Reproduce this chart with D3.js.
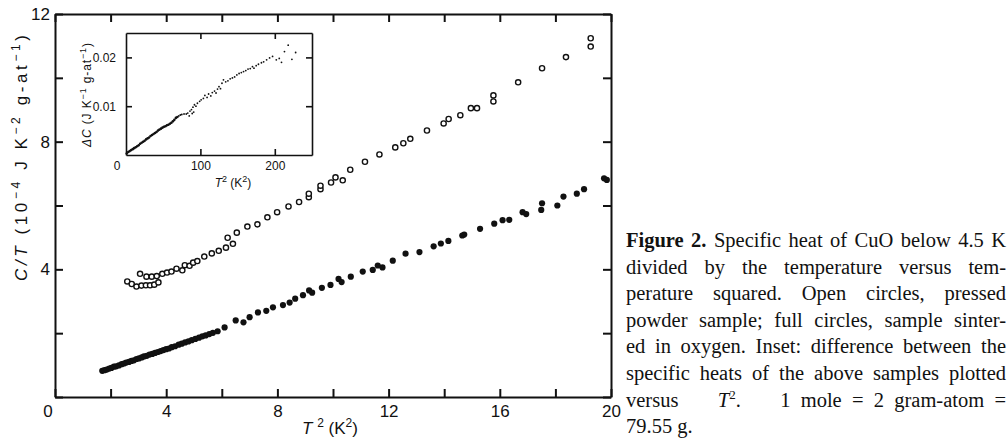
<!DOCTYPE html>
<html>
<head>
<meta charset="utf-8">
<script src="https://cdn.jsdelivr.net/npm/d3@7"></script>
<style>
  body { margin: 0; background: #fff; }
  .axis text { font-family: "Liberation Sans", Arial, sans-serif; fill: #111; }
  .label { font-family: "Liberation Sans", Arial, sans-serif; fill: #111; }
  .caption { font-family: "Liberation Serif", "Times New Roman", serif; font-size: 20.5px; fill: #111; }
</style>
</head>
<body>
<svg id="chart"></svg>
<script>
// constants for chart
let width = 1008
let height = 438

// open circles: pressed powder sample  [T^2 (K^2), C/T (1e-4 J K^-2 g-at^-1)]
let pressedPowder = [
  [2.60,3.62],[2.76,3.54],[2.93,3.46],[3.06,3.86],[3.11,3.49],[3.27,3.50],[3.29,3.77],[3.42,3.50],
  [3.48,3.77],[3.57,3.52],[3.66,3.79],[3.72,3.59],[3.86,3.86],[4.03,3.90],[4.19,3.93],[4.37,4.02],
  [4.58,3.97],[4.67,4.13],[4.84,4.11],[4.97,4.21],[5.12,4.26],[5.37,4.40],[5.64,4.50],[5.89,4.58],
  [6.15,4.68],[6.21,4.99],[6.40,4.80],[6.54,5.15],[6.92,5.34],[7.28,5.41],[7.64,5.63],[7.99,5.79],
  [8.40,5.97],[8.78,6.11],[9.13,6.26],[9.13,6.37],[9.55,6.51],[9.55,6.62],[9.93,6.72],[10.09,6.88],
  [10.35,6.79],[10.62,7.12],[11.15,7.37],[11.67,7.60],[12.24,7.82],[12.53,7.95],[12.78,8.09],
  [13.38,8.35],[13.98,8.57],[14.16,8.71],[14.58,8.83],[14.96,9.05],[15.18,9.05],[15.77,9.26],
  [15.77,9.45],[16.66,9.86],[17.52,10.30],[18.38,10.65],[19.27,10.98],[19.27,11.24]
]

// full circles: sample sintered in oxygen
let sinteredOxygen = [
  [1.70,0.82],[1.78,0.84],[1.86,0.86],[1.95,0.89],[2.03,0.91],[2.12,0.95],[2.20,0.96],[2.30,0.99],
  [2.40,1.03],[2.48,1.05],[2.56,1.08],[2.66,1.10],[2.75,1.13],[2.84,1.15],[2.93,1.19],[3.02,1.21],
  [3.12,1.24],[3.20,1.27],[3.30,1.29],[3.40,1.33],[3.50,1.35],[3.60,1.38],[3.70,1.41],[3.80,1.44],
  [3.90,1.47],[4.00,1.50],[4.10,1.52],[4.20,1.56],[4.32,1.59],[4.45,1.64],[4.56,1.67],[4.68,1.71],
  [4.80,1.74],[4.92,1.78],[5.05,1.82],[5.18,1.86],[5.30,1.90],[5.42,1.93],[5.55,1.97],[5.68,2.01],
  [5.85,2.06],[6.10,2.18],[6.50,2.40],[6.78,2.34],[7.00,2.50],[7.30,2.65],[7.60,2.70],[7.84,2.81],
  [8.20,2.88],[8.44,2.96],[8.64,3.08],[8.92,3.19],[9.14,3.34],[9.25,3.27],[9.60,3.42],[9.91,3.51],
  [10.20,3.70],[10.31,3.60],[10.64,3.77],[11.07,3.93],[11.43,3.98],[11.61,4.12],[11.78,4.06],
  [12.15,4.27],[12.61,4.49],[13.11,4.54],[13.62,4.72],[13.88,4.81],[14.15,4.89],[14.65,5.06],
  [14.72,5.09],[15.29,5.27],[15.80,5.43],[16.10,5.54],[16.34,5.55],[16.82,5.79],[16.95,5.73],
  [17.49,5.86],[17.52,6.07],[18.07,6.00],[18.29,6.28],[18.77,6.37],[19.03,6.51],[19.75,6.85],
  [19.85,6.80]
]

// inset: difference of specific heats [T^2, dC (J K^-1 g-at^-1)]
let insetDiff = [
  [1,0.0003],[3,0.0006],[5,0.0008],[7,0.0010],[9,0.0012],[11,0.0014],[13,0.0016],[15,0.0018],
  [17,0.0020],[19,0.0023],[21,0.0025],[23,0.0027],[25,0.0029],[27,0.0032],[29,0.0034],[31,0.0036],
  [33,0.0039],[35,0.0041],[37,0.0043],[39,0.0045],[41,0.0047],[43,0.0050],[45,0.0052],[47,0.0054],
  [49,0.0056],[51,0.0058],[53,0.0059],[55,0.0061],[57,0.0062],[59,0.0064],[61,0.0066],[63,0.0069],
  [65,0.0072],[67,0.0076],[69,0.0078],[71,0.0080],[73,0.0082],[75,0.0083],[78,0.0084],[81,0.0084],
  [83,0.0086],[85,0.0080],[86,0.0090],[88,0.0093],[89,0.0085],[90,0.0098],[91,0.0088],[92,0.0103],
  [94,0.0100],[96,0.0106],[99,0.0110],[101,0.0113],[104,0.0116],[106,0.0122],[109,0.0118],
  [111,0.0125],[114,0.0121],[116,0.0128],[119,0.0131],[121,0.0127],[123,0.0135],[125,0.0140],
  [127,0.0136],[129,0.0147],[131,0.0154],[134,0.0150],[137,0.0152],[140,0.0156],[143,0.0158],
  [146,0.0160],[149,0.0164],[152,0.0167],[155,0.0169],[158,0.0171],[161,0.0173],[164,0.0176],
  [167,0.0177],[170,0.0181],[172,0.0178],[175,0.0183],[178,0.0186],[182,0.0189],[185,0.0191],
  [189,0.0195],[193,0.0199],[197,0.0202],[202,0.0195],[206,0.0198],[209,0.0190],[213,0.0212],
  [218,0.0225],[223,0.0196],[228,0.0210]
]

// ticks
let xTicks = [0,2,4,6,8,10,12,14,16,18,20]
let xLabels = [4,8,12,16,20]
let yTicks = [0,2,4,6,8,10,12]
let yLabels = [4,8,12]
let insetXTicks = [100,200]
let insetYTicks = [0.01,0.02]

// axis titles: [text, kind]  kind: "" normal, "i" italic, "sup" superscript
let yTitleParts = [["C/T","i"],["  (10",""],["−4","sup"],["  J K",""],["−2","sup"],["  g-at",""],["−1","sup"],[")",""]]
let xTitleParts = [["T","i"],[" ",""],["2","sup"],["   (K",""],["2","sup"],[")",""]]
let insetYTitleParts = [["ΔC","i"],["  (J K",""],["−1","sup"],[" g-at",""],["−1","sup"],[")",""]]
let insetXTitleParts = [["T","i"],["2","sup"],["  (K",""],["2","sup"],[")",""]]

// caption lines (last one not justified); \u2002 keeps a fixed gap that is not stretched
let captionLines = [
  [["Figure 2.","b"],[" Specific heat of CuO below 4.5 K",""]],
  [["divided by the temperature versus tem-",""]],
  [["perature squared. Open circles, pressed",""]],
  [["powder sample; full circles, sample sinter-",""]],
  [["ed in oxygen. Inset: difference between the",""]],
  [["specific heats of the above samples plotted",""]],
  [["versus ",""],["T","i"],["2","sup"],[". 1\u2002mole\u2002=\u20022\u2002gram-atom\u2002=",""]],
  [["79.55 g.",""]]
]

let svg = d3.select("#chart")
  .attr("width", width)
  .attr("height", height)

svg.append("rect").attr("width", width).attr("height", height).attr("fill", "#fff")

// write text parts into a text element
function addParts(t, parts, supSize) {
  let up = false
  parts.forEach(p => {
    let s = t.append("tspan").text(p[0])
    if (p[1] == "i") s.style("font-style", "italic")
    if (p[1] == "b") s.style("font-weight", "bold")
    if (p[1] == "sup") {
      s.attr("dy", up ? 0 : -supSize * 0.55).style("font-size", supSize + "px")
      up = true
    } else if (up) {
      s.attr("dy", supSize * 0.55)
      up = false
    }
  })
}

function styleAxis(g, w) {
  g.attr("class", "axis")
  g.selectAll("path").attr("stroke", "#111").attr("stroke-width", w)
  g.selectAll("line").attr("stroke", "#111").attr("stroke-width", w)
}

// MAIN PLOT
let x = d3.scaleLinear().domain([0, 20]).range([55, 611])
let y = d3.scaleLinear().domain([0, 12]).range([397, 14])

svg.append("g")
  .attr("transform", "translate(0," + y(0) + ")")
  .call(d3.axisBottom(x).tickValues(xTicks).tickSizeInner(-8).tickSizeOuter(0).tickPadding(8)
    .tickFormat(d => xLabels.includes(d) ? d : ""))
  .call(g => styleAxis(g, 2))
  .selectAll("text").style("font-size", "17px")

svg.append("g")
  .attr("transform", "translate(0," + y(12) + ")")
  .call(d3.axisTop(x).tickValues(xTicks).tickSizeInner(-8).tickSizeOuter(0).tickFormat(""))
  .call(g => styleAxis(g, 2))

svg.append("g")
  .attr("transform", "translate(" + x(0) + ",0)")
  .call(d3.axisLeft(y).tickValues(yTicks).tickSizeInner(-8).tickSizeOuter(0).tickPadding(5)
    .tickFormat(d => yLabels.includes(d) ? d : ""))
  .call(g => styleAxis(g, 2))
  .selectAll("text").style("font-size", "17px")

svg.append("g")
  .attr("transform", "translate(" + x(20) + ",0)")
  .call(d3.axisRight(y).tickValues(yTicks).tickSizeInner(-8).tickSizeOuter(0).tickFormat(""))
  .call(g => styleAxis(g, 2))

// origin label
svg.append("text")
  .attr("class", "label")
  .attr("x", x(0) - 7).attr("y", y(0) + 20)
  .attr("text-anchor", "middle")
  .style("font-size", "17px")
  .text("0")

// axis titles
let yTitle = svg.append("text")
  .attr("class", "label")
  .attr("transform", "translate(27,158) rotate(-90)")
  .attr("text-anchor", "middle")
  .attr("textLength", 246).attr("lengthAdjust", "spacing")
  .style("font-size", "17px")
addParts(yTitle, yTitleParts, 12)

let xTitle = svg.append("text")
  .attr("class", "label")
  .attr("x", 330).attr("y", 434)
  .attr("text-anchor", "middle")
  .style("font-size", "17px")
addParts(xTitle, xTitleParts, 12)

// data points
svg.append("g").selectAll("circle")
  .data(pressedPowder)
  .join("circle")
  .attr("cx", d => x(d[0]))
  .attr("cy", d => y(d[1]))
  .attr("r", 2.6)
  .attr("fill", "#fff")
  .attr("stroke", "#111")
  .attr("stroke-width", 1.4)

svg.append("g").selectAll("circle")
  .data(sinteredOxygen)
  .join("circle")
  .attr("cx", d => x(d[0]))
  .attr("cy", d => y(d[1]))
  .attr("r", 3.1)
  .attr("fill", "#111")

// INSET
let ix = d3.scaleLinear().domain([0, 250]).range([126, 312])
let iy = d3.scaleLinear().domain([0, 0.025]).range([155, 33])

svg.append("rect")
  .attr("x", ix(0)).attr("y", iy(0.025))
  .attr("width", ix(250) - ix(0)).attr("height", iy(0) - iy(0.025))
  .attr("fill", "#fff")

svg.append("g")
  .attr("transform", "translate(0," + iy(0) + ")")
  .call(d3.axisBottom(ix).tickValues(insetXTicks).tickSizeInner(-6).tickSizeOuter(0).tickPadding(6))
  .call(g => styleAxis(g, 1.6))
  .selectAll("text").style("font-size", "12px")

svg.append("g")
  .attr("transform", "translate(0," + iy(0.025) + ")")
  .call(d3.axisTop(ix).tickValues(insetXTicks).tickSizeInner(-6).tickSizeOuter(0).tickFormat(""))
  .call(g => styleAxis(g, 1.6))

svg.append("g")
  .attr("transform", "translate(" + ix(0) + ",0)")
  .call(d3.axisLeft(iy).tickValues(insetYTicks).tickSizeInner(-6).tickSizeOuter(0).tickPadding(10)
    .tickFormat(d3.format(".2f")))
  .call(g => styleAxis(g, 1.6))
  .selectAll("text").style("font-size", "12px")

svg.append("g")
  .attr("transform", "translate(" + ix(250) + ",0)")
  .call(d3.axisRight(iy).tickValues(insetYTicks).tickSizeInner(-6).tickSizeOuter(0).tickFormat(""))
  .call(g => styleAxis(g, 1.6))

svg.append("text")
  .attr("class", "label")
  .attr("x", ix(0) - 9).attr("y", iy(0) + 15)
  .attr("text-anchor", "middle")
  .style("font-size", "12px")
  .text("0")

let iyTitle = svg.append("text")
  .attr("class", "label")
  .attr("transform", "translate(91,95) rotate(-90)")
  .attr("text-anchor", "middle")
  .attr("textLength", 104).attr("lengthAdjust", "spacing")
  .style("font-size", "12px")
addParts(iyTitle, insetYTitleParts, 9)

let ixTitle = svg.append("text")
  .attr("class", "label")
  .attr("x", 233).attr("y", 187)
  .attr("text-anchor", "middle")
  .style("font-size", "12px")
addParts(ixTitle, insetXTitleParts, 9)

svg.append("g").selectAll("circle")
  .data(insetDiff)
  .join("circle")
  .attr("cx", d => ix(d[0]))
  .attr("cy", d => iy(d[1]))
  .attr("r", d => d[0] < 70 ? 1.3 : 0.9)
  .attr("fill", "#111")

// CAPTION (justified by stretching the word spaces)
let captionLeft = 626
let captionWidth = 380
captionLines.forEach((line, i) => {
  let t = svg.append("text")
    .attr("class", "caption")
    .attr("x", captionLeft)
    .attr("y", 247 + i * 26.6)
  addParts(t, line, 13)
  if (i < captionLines.length - 1) {
    let natural = t.node().getComputedTextLength()
    let spaces = line.map(p => p[0]).join("").split(" ").length - 1
    if (spaces > 0) t.style("word-spacing", ((captionWidth - natural) / spaces) + "px")
  }
})
</script>
</body>
</html>
